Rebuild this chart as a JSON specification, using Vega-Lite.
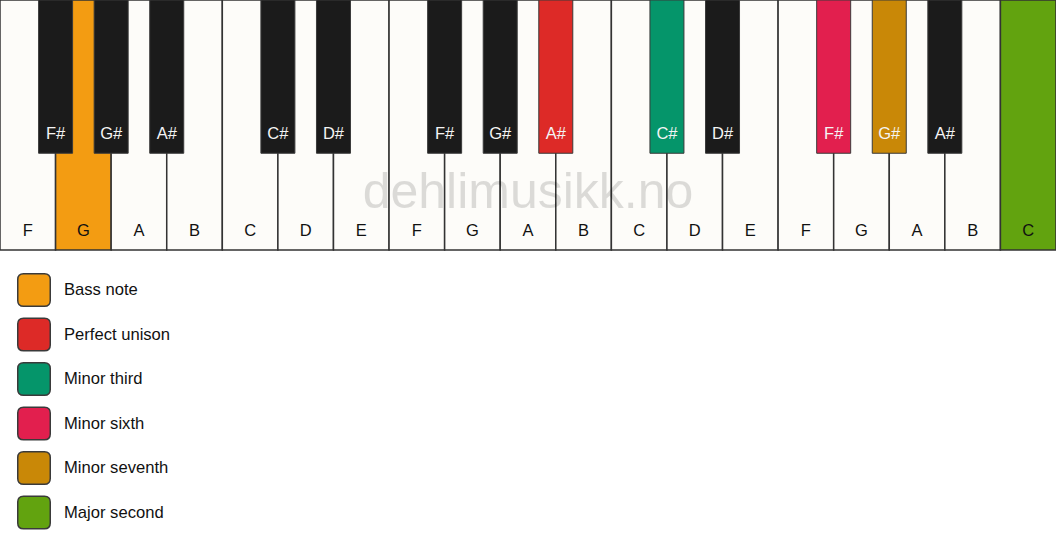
{
  "$schema": "https://vega.github.io/schema/vega-lite/v6.json",
  "width": 1056,
  "height": 550,
  "padding": 0,
  "autosize": {"type": "none"},
  "background": "#ffffff",
  "config": {"view": {"stroke": null}, "font": "Liberation Sans"},
  "datasets": {
    "white": [
      {"note": "F", "pos": 0.5, "role": "white"},
      {"note": "G", "pos": 1.5, "role": "Bass note"},
      {"note": "A", "pos": 2.5, "role": "white"},
      {"note": "B", "pos": 3.5, "role": "white"},
      {"note": "C", "pos": 4.5, "role": "white"},
      {"note": "D", "pos": 5.5, "role": "white"},
      {"note": "E", "pos": 6.5, "role": "white"},
      {"note": "F", "pos": 7.5, "role": "white"},
      {"note": "G", "pos": 8.5, "role": "white"},
      {"note": "A", "pos": 9.5, "role": "white"},
      {"note": "B", "pos": 10.5, "role": "white"},
      {"note": "C", "pos": 11.5, "role": "white"},
      {"note": "D", "pos": 12.5, "role": "white"},
      {"note": "E", "pos": 13.5, "role": "white"},
      {"note": "F", "pos": 14.5, "role": "white"},
      {"note": "G", "pos": 15.5, "role": "white"},
      {"note": "A", "pos": 16.5, "role": "white"},
      {"note": "B", "pos": 17.5, "role": "white"},
      {"note": "C", "pos": 18.5, "role": "Major second"}
    ],
    "black": [
      {"note": "F#", "pos": 1, "role": "black"},
      {"note": "G#", "pos": 2, "role": "black"},
      {"note": "A#", "pos": 3, "role": "black"},
      {"note": "C#", "pos": 5, "role": "black"},
      {"note": "D#", "pos": 6, "role": "black"},
      {"note": "F#", "pos": 8, "role": "black"},
      {"note": "G#", "pos": 9, "role": "black"},
      {"note": "A#", "pos": 10, "role": "Perfect unison"},
      {"note": "C#", "pos": 12, "role": "Minor third"},
      {"note": "D#", "pos": 13, "role": "black"},
      {"note": "F#", "pos": 15, "role": "Minor sixth"},
      {"note": "G#", "pos": 16, "role": "Minor seventh"},
      {"note": "A#", "pos": 17, "role": "black"}
    ],
    "mark": [{"text": "dehlimusikk.no"}]
  },
  "layer": [
    {
      "data": {"name": "white"},
      "mark": {"type": "bar", "orient": "vertical", "width": 55.58, "stroke": "#333333", "strokeWidth": 1.5},
      "encoding": {
        "x": {"field": "pos", "type": "quantitative", "scale": {"domain": [0, 19], "nice": false, "zero": false, "padding": 0}, "axis": null},
        "y": {"datum": 1, "type": "quantitative", "scale": {"domain": [0, 1], "range": [0, 250], "nice": false, "padding": 0}, "axis": null},
        "fill": {
          "field": "role",
          "type": "nominal",
          "scale": {
            "domain": ["white", "black", "Bass note", "Perfect unison", "Minor third", "Minor sixth", "Minor seventh", "Major second"],
            "range": ["#FDFCF9", "#1B1B1B", "#F39C12", "#DD2A27", "#05956A", "#E21F4E", "#C98807", "#62A30F"]
          },
          "legend": {
            "orient": "none",
            "legendX": 17,
            "legendY": 273,
            "title": null,
            "padding": 0,
            "values": ["Bass note", "Perfect unison", "Minor third", "Minor sixth", "Minor seventh", "Major second"],
            "symbolType": "M-0.64,-1L0.64,-1Q1,-1,1,-0.64L1,0.64Q1,1,0.64,1L-0.64,1Q-1,1,-1,0.64L-1,-0.64Q-1,-1,-0.64,-1Z",
            "symbolSize": 1056,
            "symbolStrokeColor": "#2a2a2a",
            "symbolStrokeWidth": 1.5,
            "symbolOpacity": 1,
            "labelFont": "Liberation Sans",
            "labelFontSize": 16.6,
            "labelColor": "#111111",
            "labelOffset": 13,
            "labelLimit": 300,
            "rowPadding": 4.5
          }
        }
      }
    },
    {
      "data": {"name": "white"},
      "mark": {"type": "text", "fontSize": 16.5, "fill": "#111111", "baseline": "middle", "align": "center"},
      "encoding": {
        "x": {"field": "pos", "type": "quantitative"},
        "y": {"datum": 0.924, "type": "quantitative"},
        "text": {"field": "note"}
      }
    },
    {
      "data": {"name": "mark"},
      "mark": {"type": "text", "fontSize": 50, "fill": "#000000", "opacity": 0.13, "baseline": "alphabetic", "align": "center"},
      "encoding": {
        "x": {"datum": 9.5, "type": "quantitative"},
        "y": {"datum": 0.832, "type": "quantitative"},
        "text": {"field": "text"}
      }
    },
    {
      "data": {"name": "black"},
      "mark": {"type": "bar", "orient": "vertical", "width": 34, "stroke": "#3a3a3a", "strokeWidth": 1},
      "encoding": {
        "x": {"field": "pos", "type": "quantitative"},
        "y": {"datum": 0.613, "type": "quantitative"},
        "fill": {"field": "role", "type": "nominal"}
      }
    },
    {
      "data": {"name": "black"},
      "mark": {"type": "text", "fontSize": 16.5, "fill": "#f4f4f4", "baseline": "middle", "align": "center"},
      "encoding": {
        "x": {"field": "pos", "type": "quantitative"},
        "y": {"datum": 0.534, "type": "quantitative"},
        "text": {"field": "note"}
      }
    }
  ]
}
